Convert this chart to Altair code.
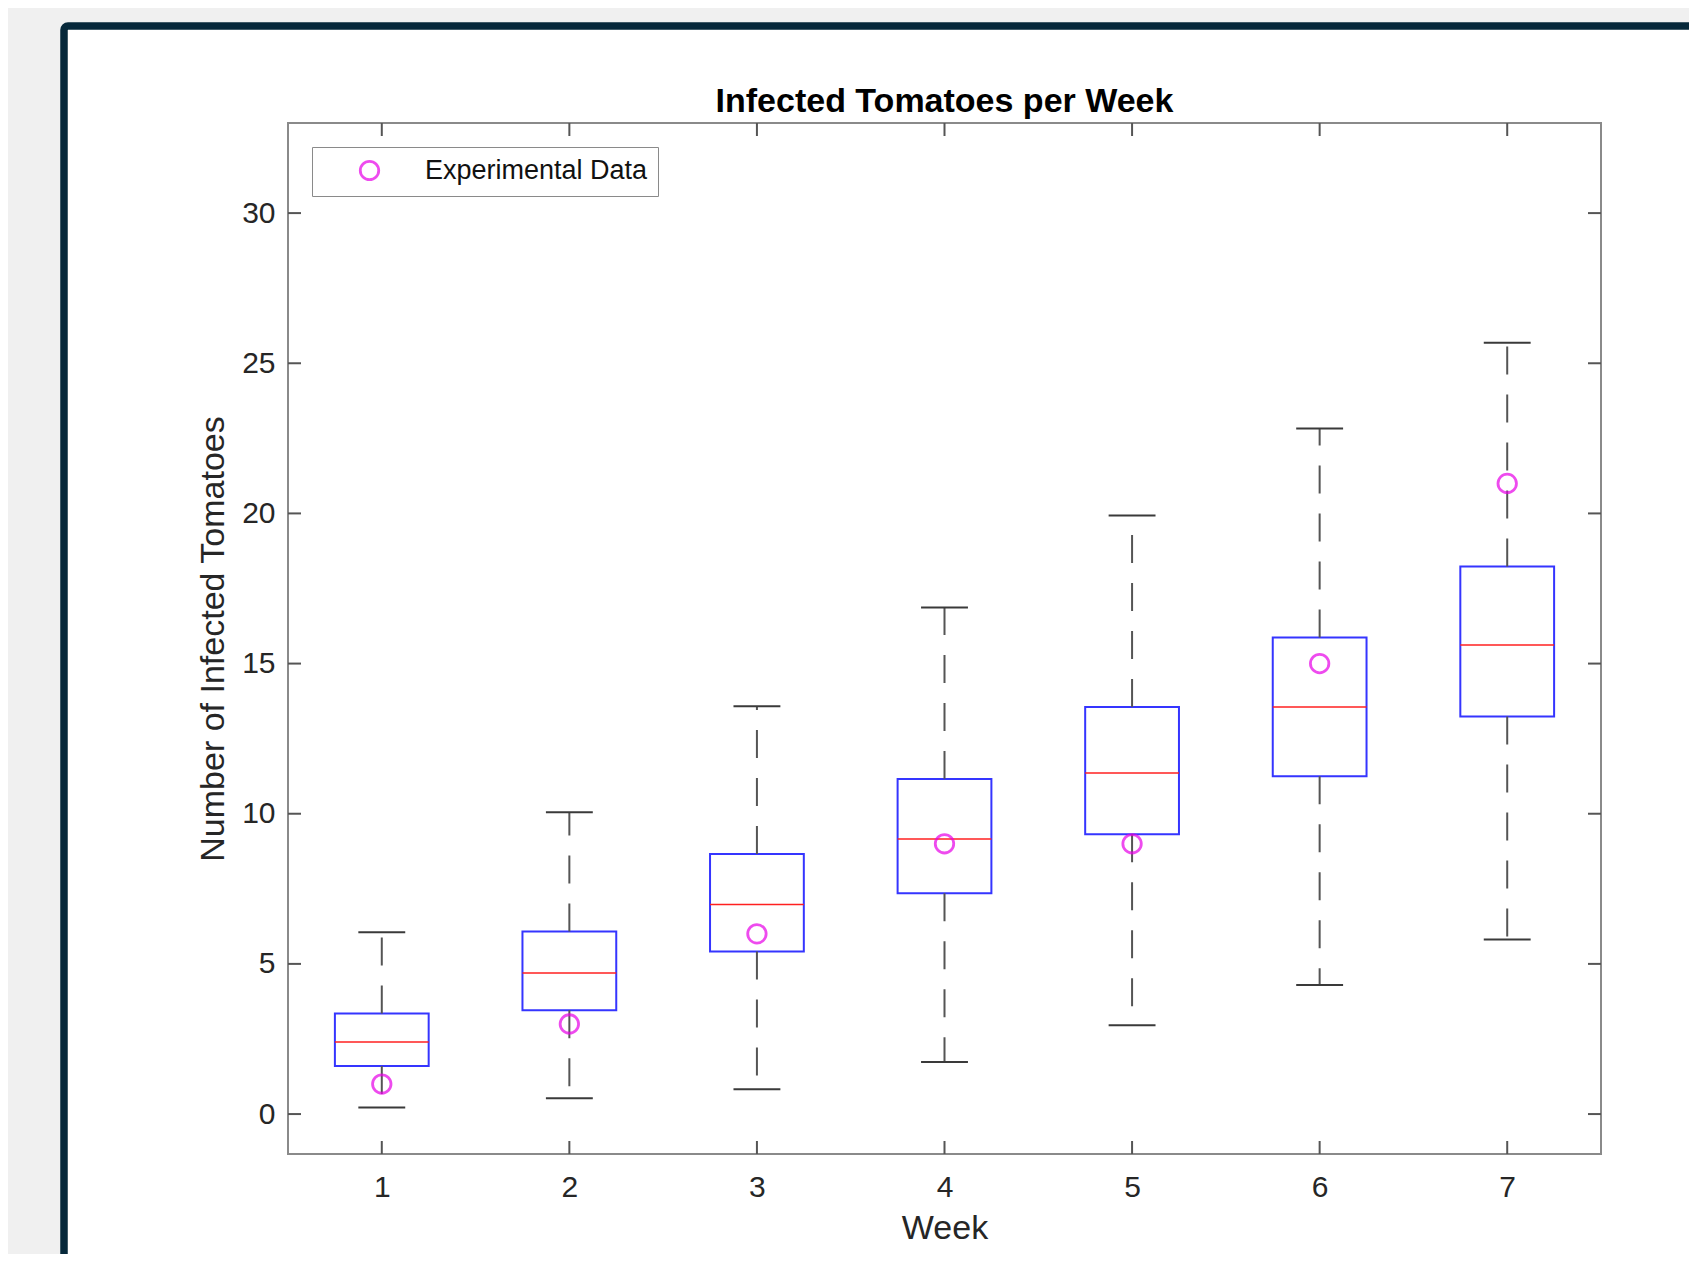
import altair as alt
import pandas as pd

# ---- data ----
weeks = [1, 2, 3, 4, 5, 6, 7]
upper_whisker = [6.05, 10.05, 13.58, 16.87, 19.93, 22.83, 25.68]
q3 = [3.35, 6.08, 8.66, 11.16, 13.55, 15.87, 18.23]
median = [2.40, 4.70, 6.98, 9.16, 11.36, 13.55, 15.62]
q1 = [1.60, 3.46, 5.41, 7.35, 9.32, 11.25, 13.24]
lower_whisker = [0.22, 0.53, 0.83, 1.73, 2.96, 4.30, 5.81]
experimental = [1, 3, 6, 9, 9, 15, 21]
series_name = "Experimental Data"

x_ticks = [1, 2, 3, 4, 5, 6, 7]
y_ticks = [0, 5, 10, 15, 20, 25, 30]

title_text = "Infected Tomatoes per Week"
x_title = "Week"
y_title = "Number of Infected Tomatoes"

# ---- layout / style ----
W, H = 1313, 1031
PAD_L, PAD_T = 280, 115
X_DOMAIN = [0.5, 7.5]
Y_DOMAIN = [-1.33, 33.0]
BOX_HALF = 0.25
CAP_HALF = 0.125
TICK_LEN = 13
FONT = "Liberation Sans"
TEXT = "#262626"
AXCOL = "#8a8a8a"
TICKCOL = "#555555"
FRAME = "#06283a"
OUTSIDE = "#f0f0f0"

df = pd.DataFrame({
    "week": weeks,
    "upper": upper_whisker,
    "q3": q3,
    "med": median,
    "q1": q1,
    "lower": lower_whisker,
    "obs": experimental,
})
df["left"] = df["week"] - BOX_HALF
df["right"] = df["week"] + BOX_HALF
df["capl"] = df["week"] - CAP_HALF
df["capr"] = df["week"] + CAP_HALF
df["series"] = series_name

xs = alt.Scale(domain=X_DOMAIN, nice=False, zero=False)
ys = alt.Scale(domain=Y_DOMAIN, nice=False, zero=False)

x_axis = alt.Axis(values=x_ticks, format="d", grid=False, domain=False, ticks=False,
                  tickSize=0, labelPadding=18, titlePadding=9, zindex=1)
y_axis = alt.Axis(values=y_ticks, format="d", grid=False, domain=False, ticks=False,
                  tickSize=0, labelPadding=13, titlePadding=11, zindex=1)


def X(field):
    return alt.X(field, type="quantitative", scale=xs, axis=x_axis, title=x_title)


def Y(field):
    return alt.Y(field, type="quantitative", scale=ys, axis=y_axis, title=y_title)


one = pd.DataFrame({"k": [0]})

# window decoration: grey surround (left and top strips) and dark frame line
band_left = alt.Chart(one).mark_rect(fill=OUTSIDE).encode(
    x=alt.value(-PAD_L), x2=alt.value(-224), y=alt.value(-PAD_T), y2=alt.value(H + 300))
band_top = alt.Chart(one).mark_rect(fill=OUTSIDE).encode(
    x=alt.value(-PAD_L), x2=alt.value(W + 300), y=alt.value(-PAD_T), y2=alt.value(-97))
frame = alt.Chart(one).mark_rect(
    fill="white", fillOpacity=0, stroke=FRAME, strokeWidth=7.5, cornerRadius=4
).encode(x=alt.value(-224), x2=alt.value(W + 300), y=alt.value(-97), y2=alt.value(H + 300))

# axes box
plot_box = alt.Chart(one).mark_rect(
    fill="white", fillOpacity=0, stroke=AXCOL, strokeWidth=2
).encode(x=alt.value(0), x2=alt.value(W), y=alt.value(0), y2=alt.value(H))

base = alt.Chart(df)

boxes = base.mark_rect(fill="white", fillOpacity=0, stroke="#3535ff", strokeWidth=2).encode(
    x=X("left"), x2="right:Q", y=Y("q1"), y2="q3:Q")

medians = base.mark_rule(color="#ff2020", strokeWidth=1.5).encode(
    x=X("left"), x2="right:Q", y=Y("med"))

whisk_up = base.mark_rule(color=TICKCOL, strokeWidth=2, strokeDash=[28, 20]).encode(
    x=X("week"), y=Y("q3"), y2="upper:Q")
whisk_lo = base.mark_rule(color=TICKCOL, strokeWidth=2, strokeDash=[28, 20]).encode(
    x=X("week"), y=Y("q1"), y2="lower:Q")
cap_up = base.mark_rule(color="#3a3a3a", strokeWidth=2).encode(
    x=X("capl"), x2="capr:Q", y=Y("upper"))
cap_lo = base.mark_rule(color="#3a3a3a", strokeWidth=2).encode(
    x=X("capl"), x2="capr:Q", y=Y("lower"))

xt = alt.Chart(pd.DataFrame({"t": x_ticks}))
yt = alt.Chart(pd.DataFrame({"t": y_ticks}))
tick_bottom = xt.mark_rule(color=TICKCOL, strokeWidth=2).encode(
    x=X("t"), y=alt.value(H), y2=alt.value(H - TICK_LEN))
tick_top = xt.mark_rule(color=TICKCOL, strokeWidth=2).encode(
    x=X("t"), y=alt.value(0), y2=alt.value(TICK_LEN))
tick_left = yt.mark_rule(color=TICKCOL, strokeWidth=2).encode(
    y=Y("t"), x=alt.value(0), x2=alt.value(TICK_LEN))
tick_right = yt.mark_rule(color=TICKCOL, strokeWidth=2).encode(
    y=Y("t"), x=alt.value(W), x2=alt.value(W - TICK_LEN))

points = base.mark_point(shape="circle", filled=False, size=340, strokeWidth=2.8).encode(
    x=X("week"),
    y=Y("obs"),
    color=alt.Color(
        "series:N",
        scale=alt.Scale(domain=[series_name], range=["#e800e8"]),
        legend=alt.Legend(
            title=None, orient="none", legendX=24, legendY=24, padding=10,
            strokeColor=AXCOL, fillColor="white", symbolOffset=34, labelOffset=42,
            labelFontSize=27, labelFont=FONT, labelColor="#111111", labelLimit=0,
            symbolSize=340, symbolStrokeWidth=2.8, symbolType="circle", zindex=1,
        ),
    ),
)

chart = alt.layer(
    band_left, band_top, frame, plot_box, boxes, medians, whisk_up, whisk_lo,
    cap_up, cap_lo, tick_bottom, tick_top, tick_left, tick_right, points,
).properties(
    width=W,
    height=H,
    autosize=alt.AutoSizeParams(type="none"),
    padding={"left": PAD_L, "top": PAD_T, "right": 88, "bottom": 100},
    background="white",
    title=alt.TitleParams(
        title_text, font=FONT, fontSize=34, fontWeight="bold", color="black",
        anchor="middle", frame="group", baseline="alphabetic", offset=-137.5, zindex=1,
    ),
).configure_view(
    stroke="transparent"
).configure_axis(
    labelFont=FONT, labelFontSize=30, labelColor=TEXT,
    titleFont=FONT, titleFontSize=34, titleFontWeight="normal", titleColor=TEXT,
)

chart.save("out.html", embed_options={"renderer": "svg", "actions": False})
